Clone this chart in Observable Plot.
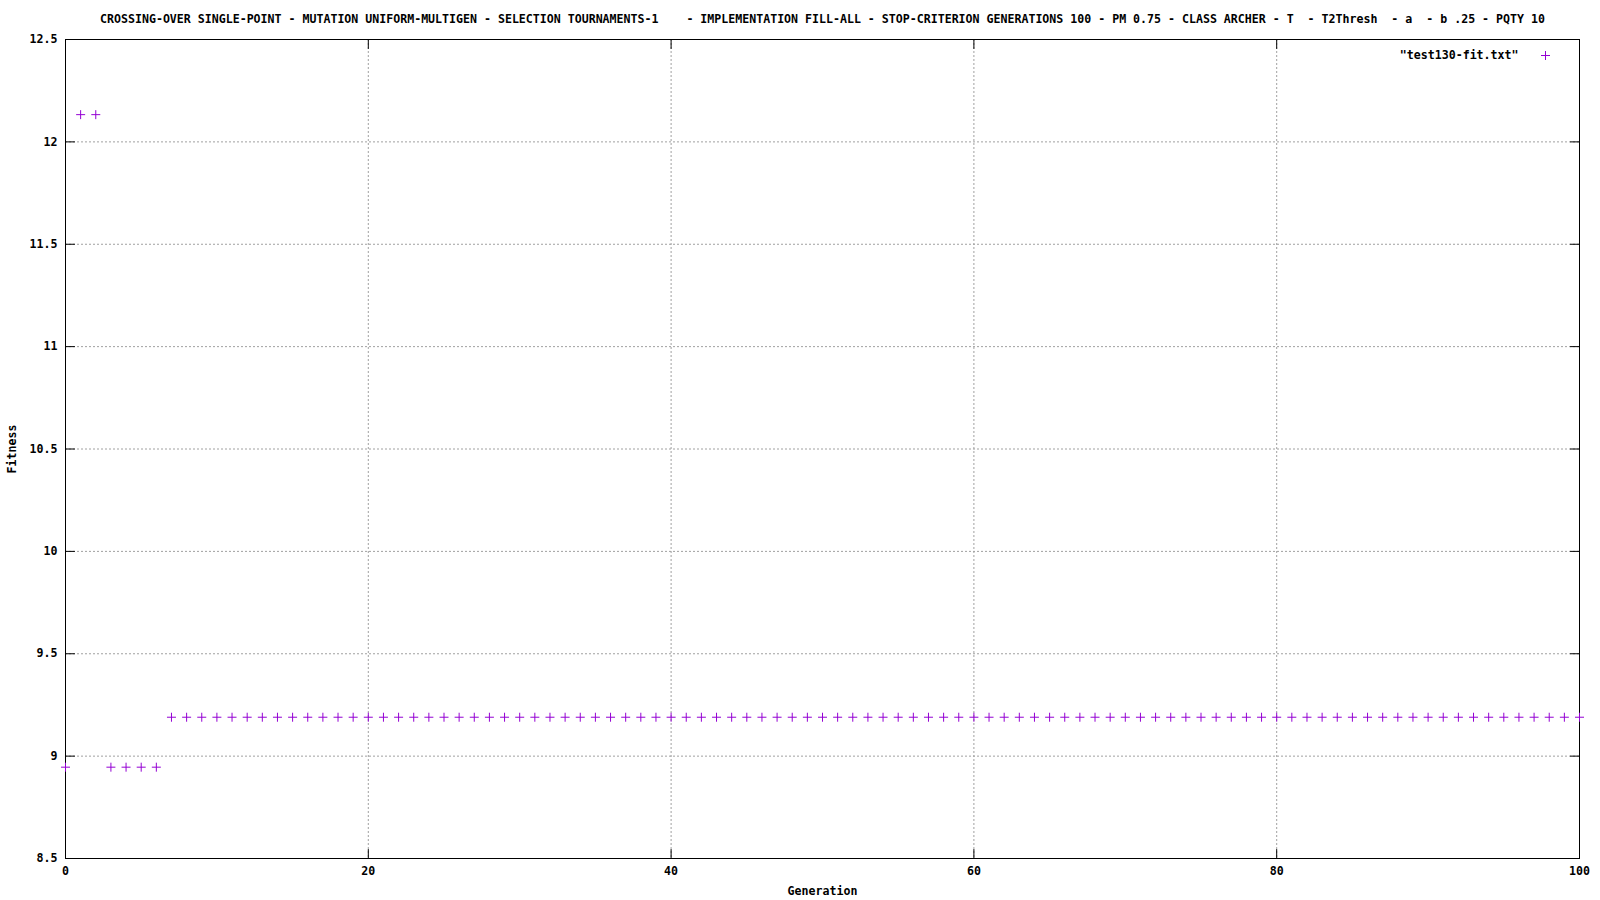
<!DOCTYPE html>
<html><head><meta charset="utf-8">
<script src="https://cdn.jsdelivr.net/npm/d3@7"></script>
<script src="https://cdn.jsdelivr.net/npm/@observablehq/plot@0.6"></script>
<style>
body{margin:0;background:#fff;}
svg{display:block}
svg text{white-space:pre;}
</style>
</head><body><div id="chart"></div>
<script>
const titleText = "CROSSING-OVER SINGLE-POINT - MUTATION UNIFORM-MULTIGEN - SELECTION TOURNAMENTS-1    - IMPLEMENTATION FILL-ALL - STOP-CRITERION GENERATIONS 100 - PM 0.75 - CLASS ARCHER - T  - T2Thresh  - a  - b .25 - PQTY 10";
const seriesName = "\"test130-fit.txt\"";
const xLabel = "Generation";
const yLabel = "Fitness";
const xTicks = [0, 20, 40, 60, 80, 100];
const yTicks = [8.5, 9, 9.5, 10, 10.5, 11, 11.5, 12, 12.5];
const fitness = [
  8.946, 12.133, 12.133, 8.946, 8.946, 8.946, 8.946,
  9.19, 9.19, 9.19, 9.19, 9.19, 9.19, 9.19, 9.19, 9.19, 9.19,
  9.19, 9.19, 9.19, 9.19, 9.19, 9.19, 9.19, 9.19, 9.19, 9.19,
  9.19, 9.19, 9.19, 9.19, 9.19, 9.19, 9.19, 9.19, 9.19, 9.19,
  9.19, 9.19, 9.19, 9.19, 9.19, 9.19, 9.19, 9.19, 9.19, 9.19,
  9.19, 9.19, 9.19, 9.19, 9.19, 9.19, 9.19, 9.19, 9.19, 9.19,
  9.19, 9.19, 9.19, 9.19, 9.19, 9.19, 9.19, 9.19, 9.19, 9.19,
  9.19, 9.19, 9.19, 9.19, 9.19, 9.19, 9.19, 9.19, 9.19, 9.19,
  9.19, 9.19, 9.19, 9.19, 9.19, 9.19, 9.19, 9.19, 9.19, 9.19,
  9.19, 9.19, 9.19, 9.19, 9.19, 9.19, 9.19, 9.19, 9.19, 9.19,
  9.19, 9.19, 9.19, 9.19
];
const data = fitness.map((f, i) => ({generation: i, fitness: f}));

const pointColor = "#9400d3";
const plusShape = {draw(ctx, size) {
  const r = Math.sqrt(size / Math.PI);
  ctx.moveTo(-r, 0); ctx.lineTo(r, 0);
  ctx.moveTo(0, -r); ctx.lineTo(0, r);
}};
const tickShape = {draw(ctx, l) { ctx.moveTo(0, 0); ctx.lineTo(0, -l); }};
const tickOpts = {length: 9, anchor: "start", shape: tickShape, stroke: "black", strokeWidth: 1};

const chart = Plot.plot({
  width: 1600,
  height: 900,
  marginLeft: 65,
  marginRight: 21,
  marginTop: 39,
  marginBottom: 42,
  style: {fontFamily: "'DejaVu Sans Mono', monospace", fontSize: "11.6px", fontWeight: "bold", background: "white", color: "black"},
  x: {domain: [0, 100]},
  y: {domain: [8.5, 12.5]},
  marks: [
    Plot.gridX(xTicks, {stroke: "#a0a0a0", strokeOpacity: 1, strokeDasharray: "2,2"}),
    Plot.gridY(yTicks, {stroke: "#a0a0a0", strokeOpacity: 1, strokeDasharray: "2,2"}),
    Plot.axisX({ticks: xTicks, tickSize: 0, tickPadding: 8, label: null}),
    Plot.axisY({ticks: yTicks, tickSize: 0, tickPadding: 8, label: null, tickFormat: d => String(d)}),
    Plot.vector(yTicks, {y: d => d, frameAnchor: "left", rotate: 90, ...tickOpts}),
    Plot.vector(yTicks, {y: d => d, frameAnchor: "right", rotate: -90, ...tickOpts}),
    Plot.vector(xTicks, {x: d => d, frameAnchor: "bottom", rotate: 0, ...tickOpts}),
    Plot.vector(xTicks, {x: d => d, frameAnchor: "top", rotate: 180, ...tickOpts}),
    Plot.frame({stroke: "black", strokeWidth: 1}),
    Plot.dot(data, {x: "generation", y: "fitness", symbol: plusShape, r: 4.5, stroke: pointColor, fill: "none", strokeWidth: 1}),
    Plot.text([titleText], {text: d => d, frameAnchor: "top", dy: -20, textAnchor: "middle", lineAnchor: "middle"}),
    Plot.text([xLabel], {text: d => d, frameAnchor: "bottom", dy: 33, textAnchor: "middle", lineAnchor: "middle"}),
    Plot.text([yLabel], {text: d => d, frameAnchor: "left", dx: -53, rotate: -90, textAnchor: "middle", lineAnchor: "middle"}),
    Plot.text([seriesName], {text: d => d, frameAnchor: "top-right", dx: -61, dy: 16, textAnchor: "end", lineAnchor: "middle"}),
    Plot.dot([seriesName], {frameAnchor: "top-right", dx: -34, dy: 16, symbol: plusShape, r: 4.5, stroke: pointColor, fill: "none", strokeWidth: 1})
  ]
});
document.getElementById("chart").appendChild(chart);
</script>
</body></html>
